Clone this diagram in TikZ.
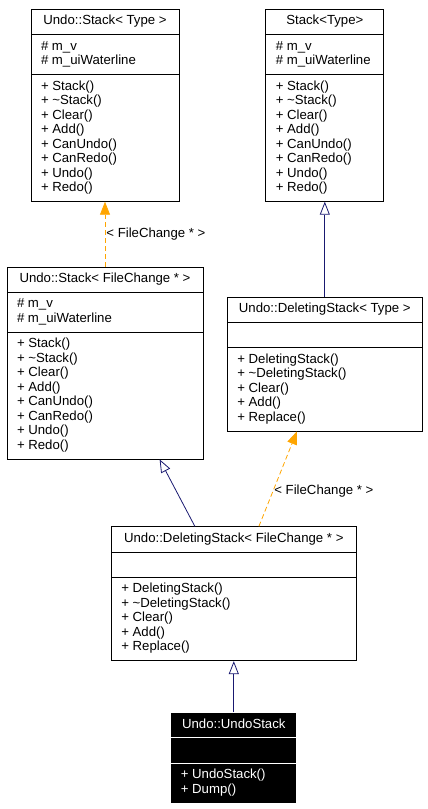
\documentclass[tikz,border=0pt]{standalone}
\usepackage{fontspec}
\setmainfont{Liberation Sans}
\usetikzlibrary{shapes.multipart,positioning,arrows.meta}
\definecolor{navyline}{RGB}{25,25,112}
\definecolor{orangeline}{RGB}{255,165,0}
\tikzset
{
    classbox/.style = {rectangle split, rectangle split parts=3, draw=black, line width=0.8pt, align=left, rectangle split part align={center,left,left}, inner xsep=10pt, inner ysep=5pt},
    leafbox/.style  = {classbox, fill=black, draw=white, text=white},
    inherit/.style  = {draw=navyline, line width=0.8pt, -{Triangle[open, length=13pt, width=10pt]}},
    realize/.style  = {draw=orangeline, line width=0.8pt, dash pattern=on 5pt off 3pt, -{Triangle[length=13pt, width=10pt, fill=orangeline]}},
    edgelabel/.style = {right, inner sep=1pt}
}

\begin{document}
\begin{tikzpicture}[x=1pt, y=-1pt, font=\fontsize{13.2}{14.5}\selectfont]
	\useasboundingbox (0,0) rectangle (428,809);

	\node (usT) [classbox, minimum width=148pt, anchor=north] at (105,9) {\strut Undo::Stack< Type >
		\nodepart{two} \strut\# m\_v\\ \strut\# m\_uiWaterline
		\nodepart{three} \strut+ Stack()\\ \strut+ \textasciitilde Stack()\\ \strut+ Clear()\\ \strut+ Add()\\ \strut+ CanUndo()\\ \strut+ CanRedo()\\ \strut+ Undo()\\ \strut+ Redo()};
	\node (stT) [classbox, minimum width=118pt, right=86pt of usT.north east, anchor=north west] {\strut Stack<Type>
		\nodepart{two} \strut\# m\_v\\ \strut\# m\_uiWaterline
		\nodepart{three} \strut+ Stack()\\ \strut+ \textasciitilde Stack()\\ \strut+ Clear()\\ \strut+ Add()\\ \strut+ CanUndo()\\ \strut+ CanRedo()\\ \strut+ Undo()\\ \strut+ Redo()};
	\node (usFC) [classbox, minimum width=196pt, below=65pt of usT] {\strut Undo::Stack< FileChange * >
		\nodepart{two} \strut\# m\_v\\ \strut\# m\_uiWaterline
		\nodepart{three} \strut+ Stack()\\ \strut+ \textasciitilde Stack()\\ \strut+ Clear()\\ \strut+ Add()\\ \strut+ CanUndo()\\ \strut+ CanRedo()\\ \strut+ Undo()\\ \strut+ Redo()};
	\node (dsT) [classbox, minimum width=195pt, below=95pt of stT] {\strut Undo::DeletingStack< Type >
		\nodepart{two} \strut
		\nodepart{three} \strut+ DeletingStack()\\ \strut+ \textasciitilde DeletingStack()\\ \strut+ Clear()\\ \strut+ Add()\\ \strut+ Replace()};
	\node (dsFC) [classbox, minimum width=245pt, below=95pt of dsT, xshift=-91pt] {\strut Undo::DeletingStack< FileChange * >
		\nodepart{two} \strut
		\nodepart{three} \strut+ DeletingStack()\\ \strut+ \textasciitilde DeletingStack()\\ \strut+ Clear()\\ \strut+ Add()\\ \strut+ Replace()};
	\node (uStack) [leafbox, minimum width=126pt, below=51pt of dsFC] {\strut Undo::UndoStack
		\nodepart{two} \strut
		\nodepart{three} \strut+ UndoStack()\\ \strut+ Dump()};

	\draw [realize] (usFC.north) -- node[edgelabel] {< FileChange * >} (usT.south);
	\draw [inherit] (dsT.north) -- (stT.south);
	\draw [inherit] ([xshift=84pt]dsFC.north west) -- ([xshift=153pt]usFC.south west);
	\draw [realize] ([xshift=148pt]dsFC.north west) -- node[edgelabel, pos=0.37] {< FileChange * >} ([xshift=70pt]dsT.south west);
	\draw [inherit] (uStack.north) -- (dsFC.south);
\end{tikzpicture}
\end{document}
